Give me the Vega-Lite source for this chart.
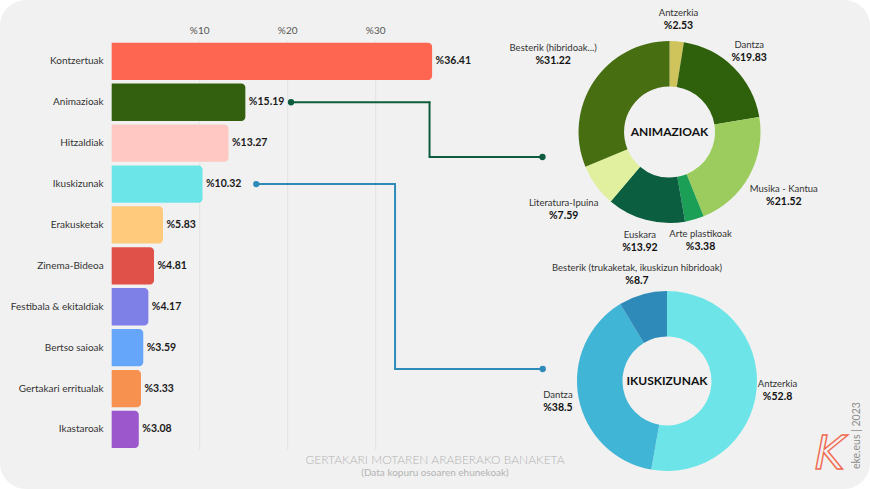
{
  "$schema": "https://vega.github.io/schema/vega-lite/v6.json",
  "width": 870,
  "height": 489,
  "autosize": {"type": "none"},
  "padding": 0,
  "background": "#ffffff",
  "title": {
    "text": "GERTAKARI MOTAREN ARABERAKO BANAKETA",
    "subtitle": "(Data kopuru osoaren ehunekoak)",
    "orient": "bottom",
    "anchor": "middle",
    "frame": "group",
    "offset": -34,
    "fontSize": 12,
    "fontWeight": 300,
    "color": "#b3b3b3",
    "subtitleFontSize": 10,
    "subtitleColor": "#b3b3b3",
    "subtitlePadding": 1
  },
  "config": {
    "view": {"fill": "#f1f1f1", "stroke": null, "cornerRadius": 26},
    "font": "Lato",
    "axis": {"disable": true},
    "locale": {"number": {"decimal": ".", "thousands": ",", "grouping": [3], "currency": ["%", ""]}}
  },
  "datasets": {
    "palkak": [
      {"mota": "Kontzertuak", "ehunekoa": 36.41},
      {"mota": "Animazioak", "ehunekoa": 15.19},
      {"mota": "Hitzaldiak", "ehunekoa": 13.27},
      {"mota": "Ikuskizunak", "ehunekoa": 10.32},
      {"mota": "Erakusketak", "ehunekoa": 5.83},
      {"mota": "Zinema-Bideoa", "ehunekoa": 4.81},
      {"mota": "Festibala & ekitaldiak", "ehunekoa": 4.17},
      {"mota": "Bertso saioak", "ehunekoa": 3.59},
      {"mota": "Gertakari erritualak", "ehunekoa": 3.33},
      {"mota": "Ikastaroak", "ehunekoa": 3.08}
    ],
    "animazioak": [
      {"mota": "Antzerkia", "ehunekoa": 2.53},
      {"mota": "Dantza", "ehunekoa": 19.83},
      {"mota": "Musika - Kantua", "ehunekoa": 21.52},
      {"mota": "Arte plastikoak", "ehunekoa": 3.38},
      {"mota": "Euskara", "ehunekoa": 13.92},
      {"mota": "Literatura-Ipuina", "ehunekoa": 7.59},
      {"mota": "Besterik (hibridoak...)", "ehunekoa": 31.22}
    ],
    "ikuskizunak": [
      {"mota": "Antzerkia", "ehunekoa": 52.8},
      {"mota": "Dantza", "ehunekoa": 38.5},
      {"mota": "Besterik (trukaketak, ikuskizun hibridoak)", "ehunekoa": 8.7}
    ]
  },
  "resolve": {"scale": {"color": "independent", "theta": "independent"}},
  "layer": [
    {
      "data": {"values": [{"balioa": 10}, {"balioa": 20}, {"balioa": 30}]},
      "encoding": {
        "x": {"field": "balioa", "type": "quantitative", "scale": {"domain": [-12.69, 86.17], "nice": false, "zero": false}}
      },
      "layer": [
        {
          "mark": {"type": "rule", "color": "#e3e3e3", "strokeWidth": 1},
          "encoding": {
            "y": {"datum": 0.5, "type": "quantitative", "scale": {"domain": [-0.5, 11.456], "nice": false, "zero": false, "reverse": true, "padding": 0}},
            "y2": {"datum": 10.5}
          }
        },
        {
          "mark": {"type": "text", "color": "#555555", "fontSize": 10},
          "encoding": {
            "y": {"datum": 0.26, "type": "quantitative"},
            "text": {"field": "balioa", "type": "quantitative", "format": "$~f"}
          }
        }
      ]
    },
    {
      "data": {"name": "palkak"},
      "transform": [{"window": [{"op": "row_number", "as": "sira"}]}],
      "encoding": {
        "y": {"field": "sira", "type": "quantitative", "scale": {"domain": [-0.5, 11.456], "nice": false, "zero": false, "reverse": true, "padding": 0}},
        "x": {"field": "ehunekoa", "type": "quantitative", "stack": null, "scale": {"domain": [-12.69, 86.17], "nice": false, "zero": false}}
      },
      "layer": [
        {
          "mark": {"type": "bar", "orient": "horizontal", "height": 37.3, "cornerRadiusEnd": 4},
          "encoding": {
            "color": {
              "field": "mota",
              "type": "nominal",
              "legend": null,
              "scale": {
                "domain": ["Kontzertuak", "Animazioak", "Hitzaldiak", "Ikuskizunak", "Erakusketak", "Zinema-Bideoa", "Festibala & ekitaldiak", "Bertso saioak", "Gertakari erritualak", "Ikastaroak"],
                "range": ["#ff6651", "#33600f", "#ffc8c2", "#6ce5e8", "#ffca7b", "#e0514a", "#7f7fe8", "#66a6fa", "#f79150", "#9c57cc"]
              }
            }
          }
        },
        {
          "mark": {"type": "text", "align": "left", "dx": 3.5, "fontSize": 10.5, "fontWeight": "bold", "color": "#1a1a1a"},
          "encoding": {"text": {"field": "ehunekoa", "type": "quantitative", "format": "$~f"}}
        },
        {
          "mark": {"type": "text", "align": "right", "dx": -8, "fontSize": 10, "color": "#333333"},
          "encoding": {
            "x": {"datum": 0, "type": "quantitative"},
            "text": {"field": "mota", "type": "nominal"}
          }
        }
      ]
    },
    {
      "data": {"name": "palkak"},
      "transform": [
        {"window": [{"op": "row_number", "as": "sira"}]},
        {"filter": "datum.mota === 'Animazioak'"}
      ],
      "layer": [
        {
          "mark": {"type": "rule", "color": "#0e5c3e", "strokeWidth": 2, "strokeCap": "round"},
          "encoding": {"x": {"datum": 20.38, "type": "quantitative"}, "x2": {"datum": 36.12}, "y": {"field": "sira", "type": "quantitative"}}
        },
        {
          "mark": {"type": "rule", "color": "#0e5c3e", "strokeWidth": 2, "strokeCap": "round"},
          "encoding": {"x": {"datum": 36.12, "type": "quantitative"}, "y": {"field": "sira", "type": "quantitative"}, "y2": {"datum": 3.339}}
        },
        {
          "mark": {"type": "rule", "color": "#0e5c3e", "strokeWidth": 2, "strokeCap": "round"},
          "encoding": {"x": {"datum": 36.12, "type": "quantitative"}, "x2": {"datum": 48.95}, "y": {"datum": 3.339, "type": "quantitative"}}
        },
        {
          "mark": {"type": "point", "filled": true, "opacity": 1, "color": "#0e5c3e", "size": 40},
          "encoding": {"x": {"datum": 20.38, "type": "quantitative"}, "y": {"field": "sira", "type": "quantitative"}}
        },
        {
          "mark": {"type": "point", "filled": true, "opacity": 1, "color": "#0e5c3e", "size": 40},
          "encoding": {"x": {"datum": 48.95, "type": "quantitative"}, "y": {"datum": 3.339, "type": "quantitative"}}
        }
      ]
    },
    {
      "data": {"name": "palkak"},
      "transform": [
        {"window": [{"op": "row_number", "as": "sira"}]},
        {"filter": "datum.mota === 'Ikuskizunak'"}
      ],
      "layer": [
        {
          "mark": {"type": "rule", "color": "#2d8ab9", "strokeWidth": 2, "strokeCap": "round"},
          "encoding": {"x": {"datum": 16.43, "type": "quantitative"}, "x2": {"datum": 32.2}, "y": {"field": "sira", "type": "quantitative"}}
        },
        {
          "mark": {"type": "rule", "color": "#2d8ab9", "strokeWidth": 2, "strokeCap": "round"},
          "encoding": {"x": {"datum": 32.2, "type": "quantitative"}, "y": {"field": "sira", "type": "quantitative"}, "y2": {"datum": 8.522}}
        },
        {
          "mark": {"type": "rule", "color": "#2d8ab9", "strokeWidth": 2, "strokeCap": "round"},
          "encoding": {"x": {"datum": 32.2, "type": "quantitative"}, "x2": {"datum": 48.98}, "y": {"datum": 8.522, "type": "quantitative"}}
        },
        {
          "mark": {"type": "point", "filled": true, "opacity": 1, "color": "#2d8ab9", "size": 40},
          "encoding": {"x": {"datum": 16.43, "type": "quantitative"}, "y": {"field": "sira", "type": "quantitative"}}
        },
        {
          "mark": {"type": "point", "filled": true, "opacity": 1, "color": "#2d8ab9", "size": 40},
          "encoding": {"x": {"datum": 48.98, "type": "quantitative"}, "y": {"datum": 8.522, "type": "quantitative"}}
        }
      ]
    },
    {
      "data": {"name": "animazioak"},
      "transform": [{"window": [{"op": "row_number", "as": "sira"}]}],
      "encoding": {
        "x": {"datum": 63.39, "type": "quantitative"},
        "y": {"datum": 2.727, "type": "quantitative"},
        "theta": {"field": "ehunekoa", "type": "quantitative", "stack": true},
        "order": {"field": "sira", "type": "quantitative"},
        "detail": {"field": "mota", "type": "nominal"}
      },
      "layer": [
        {
          "mark": {"type": "arc", "innerRadius": 45.5, "outerRadius": 91},
          "encoding": {
            "color": {
              "field": "mota",
              "type": "nominal",
              "legend": null,
              "scale": {
                "domain": ["Antzerkia", "Dantza", "Musika - Kantua", "Arte plastikoak", "Euskara", "Literatura-Ipuina", "Besterik (hibridoak...)"],
                "range": ["#cfc35c", "#2f610c", "#9ccc5e", "#1b9e55", "#0b5e40", "#e0f09e", "#476e10"]
              }
            }
          }
        },
        {
          "mark": {"type": "text", "radius": 113, "dy": -6.5, "fontSize": 9.5, "color": "#333333"},
          "encoding": {
            "text": {"field": "mota", "type": "nominal"},
            "opacity": {"condition": {"test": "indexof(['Antzerkia', 'Dantza', 'Arte plastikoak', 'Euskara'], datum.mota) >= 0", "value": 1}, "value": 0}
          }
        },
        {
          "mark": {"type": "text", "radius": 113, "dy": 6.5, "fontSize": 10.5, "fontWeight": "bold", "color": "#111111"},
          "encoding": {
            "text": {"field": "ehunekoa", "type": "quantitative", "format": "$~f"},
            "opacity": {"condition": {"test": "indexof(['Antzerkia', 'Dantza', 'Arte plastikoak', 'Euskara'], datum.mota) >= 0", "value": 1}, "value": 0}
          }
        },
        {
          "mark": {"type": "text", "radius": 131, "dy": -6.5, "fontSize": 9.5, "color": "#333333"},
          "encoding": {
            "text": {"field": "mota", "type": "nominal"},
            "opacity": {"condition": {"test": "indexof(['Musika - Kantua', 'Literatura-Ipuina'], datum.mota) >= 0", "value": 1}, "value": 0}
          }
        },
        {
          "mark": {"type": "text", "radius": 131, "dy": 6.5, "fontSize": 10.5, "fontWeight": "bold", "color": "#111111"},
          "encoding": {
            "text": {"field": "ehunekoa", "type": "quantitative", "format": "$~f"},
            "opacity": {"condition": {"test": "indexof(['Musika - Kantua', 'Literatura-Ipuina'], datum.mota) >= 0", "value": 1}, "value": 0}
          }
        },
        {
          "mark": {"type": "text", "radius": 140, "dy": -6.5, "fontSize": 9.5, "color": "#333333"},
          "encoding": {
            "text": {"field": "mota", "type": "nominal"},
            "opacity": {"condition": {"test": "datum.mota === 'Besterik (hibridoak...)'", "value": 1}, "value": 0}
          }
        },
        {
          "mark": {"type": "text", "radius": 140, "dy": 6.5, "fontSize": 10.5, "fontWeight": "bold", "color": "#111111"},
          "encoding": {
            "text": {"field": "ehunekoa", "type": "quantitative", "format": "$~f"},
            "opacity": {"condition": {"test": "datum.mota === 'Besterik (hibridoak...)'", "value": 1}, "value": 0}
          }
        }
      ]
    },
    {
      "data": {"name": "ikuskizunak"},
      "transform": [{"window": [{"op": "row_number", "as": "sira"}]}],
      "encoding": {
        "x": {"datum": 63.1, "type": "quantitative"},
        "y": {"datum": 8.815, "type": "quantitative"},
        "theta": {"field": "ehunekoa", "type": "quantitative", "stack": true},
        "order": {"field": "sira", "type": "quantitative"},
        "detail": {"field": "mota", "type": "nominal"}
      },
      "layer": [
        {
          "mark": {"type": "arc", "innerRadius": 44.5, "outerRadius": 90},
          "encoding": {
            "color": {
              "field": "mota",
              "type": "nominal",
              "legend": null,
              "scale": {
                "domain": ["Antzerkia", "Dantza", "Besterik (trukaketak, ikuskizun hibridoak)"],
                "range": ["#6de5e8", "#40b5d6", "#2d8ab9"]
              }
            }
          }
        },
        {
          "mark": {"type": "text", "radius": 111, "dy": -6.5, "fontSize": 9.5, "color": "#333333"},
          "encoding": {"text": {"field": "mota", "type": "nominal"}}
        },
        {
          "mark": {"type": "text", "radius": 111, "dy": 6.5, "fontSize": 10.5, "fontWeight": "bold", "color": "#111111"},
          "encoding": {"text": {"field": "ehunekoa", "type": "quantitative", "format": "$~f"}}
        }
      ]
    },
    {
      "data": {"name": "palkak"},
      "transform": [{"filter": "datum.mota === 'Animazioak'"}],
      "mark": {"type": "text", "fontSize": 12, "fontWeight": "bold", "color": "#111111"},
      "encoding": {
        "x": {"datum": 63.39, "type": "quantitative"},
        "y": {"datum": 2.727, "type": "quantitative"},
        "text": {"value": "ANIMAZIOAK"}
      }
    },
    {
      "data": {"name": "palkak"},
      "transform": [{"filter": "datum.mota === 'Ikuskizunak'"}],
      "mark": {"type": "text", "fontSize": 12, "fontWeight": "bold", "color": "#111111"},
      "encoding": {
        "x": {"datum": 63.1, "type": "quantitative"},
        "y": {"datum": 8.815, "type": "quantitative"},
        "text": {"value": "IKUSKIZUNAK"}
      }
    },
    {
      "data": {"values": [{"testua": "eke.eus | 2023"}]},
      "mark": {"type": "text", "angle": 270, "fontSize": 10.5, "color": "#8c8c8c"},
      "encoding": {
        "x": {"datum": 84.7, "type": "quantitative"},
        "y": {"datum": 10.15, "type": "quantitative"},
        "text": {"field": "testua", "type": "nominal"}
      }
    },
    {
      "data": {"values": [{"testua": "K"}]},
      "mark": {"type": "text", "font": "DejaVu Sans", "fontStyle": "italic", "fontSize": 46, "fillOpacity": 0, "stroke": "#f26a4f", "strokeWidth": 1.4},
      "encoding": {
        "x": {"datum": 81.6, "type": "quantitative"},
        "y": {"datum": 10.62, "type": "quantitative"},
        "text": {"field": "testua", "type": "nominal"}
      }
    }
  ]
}
